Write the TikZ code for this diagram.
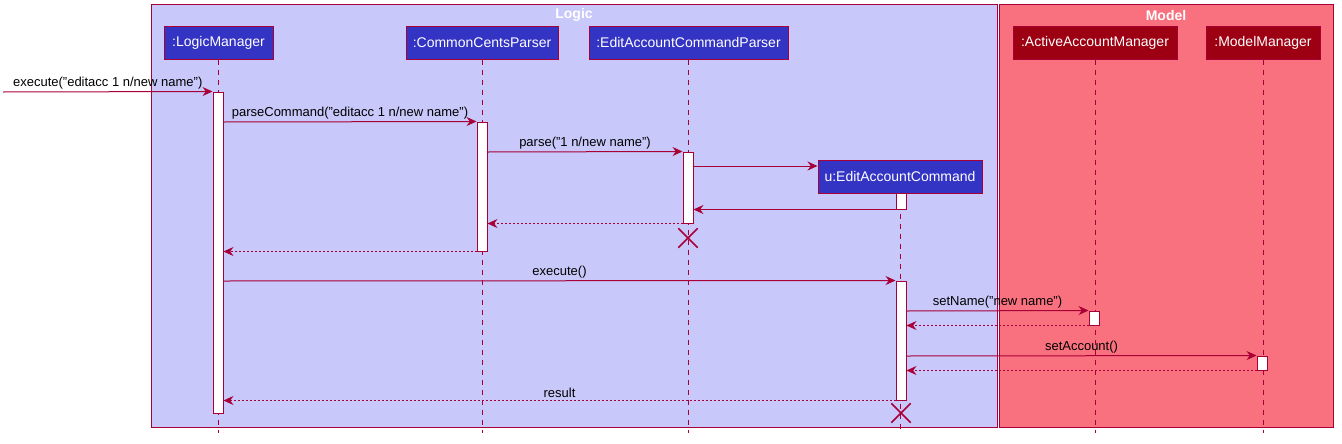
\documentclass[tikz,border=0pt]{standalone}
\usepackage{fontspec}
\setmainfont{Liberation Sans}
\usetikzlibrary{arrows.meta,fit,shapes.misc}
\definecolor{umlred}{HTML}{A80036}
\definecolor{logicbg}{HTML}{C8C8FA}
\definecolor{modelbg}{HTML}{F9717F}
\definecolor{logicpart}{HTML}{3333C4}
\definecolor{modelpart}{HTML}{9D0012}
\begin{document}
\begin{tikzpicture}[x=0.75pt,y=-0.75pt,
  font=\fontsize{9.75}{11.5}\selectfont,
  frame/.style={draw=umlred,line width=0.75pt},
  title/.style={text=white,font=\bfseries\fontsize{10.5}{12}\selectfont},
  part/.style={draw=umlred,line width=0.75pt,inner sep=0pt},
  ptext/.style={text=white,font=\fontsize{10.5}{12}\selectfont},
  life/.style={draw=umlred,line width=0.75pt,dash pattern=on 3.75pt off 3.75pt},
  act/.style={draw=umlred,fill=white,line width=0.75pt,inner sep=0pt},
  msg/.style={draw=umlred,line width=0.75pt,-{Stealth[length=7.5pt,width=6.75pt,inset=2.5pt]}},
  ret/.style={msg,dash pattern=on 1.5pt off 1.5pt},
  lbl/.style={above,inner sep=1.5pt,text=black},
  destroy/.style={cross out,draw=umlred,line width=1.1pt,minimum size=13.5pt,inner sep=0pt}]
\useasboundingbox (0,0) rectangle (1342,443);
% Draw the two boxes
\draw[frame,fill=logicbg] (151,4) rectangle (997,427);
\draw[frame,fill=modelbg] (999,4) rectangle (1333,427);
\node[title] (logic) at (574,15) {Logic};
\node[title] (model) at (1166,15) {Model};
% Participants
\node[part,fill=logicpart,fit={(164,26)(273,59)},label={[ptext]center::LogicManager}] (lm) {};
\node[part,fill=logicpart,fit={(406,26)(558,59)},label={[ptext]center::CommonCentsParser}] (ccp) {};
\node[part,fill=logicpart,fit={(589,26)(788,59)},label={[ptext]center::EditAccountCommandParser}] (ecp) {};
\node[part,fill=modelpart,fit={(1013,26)(1177,59)},label={[ptext]center::ActiveAccountManager}] (aam) {};
\node[part,fill=modelpart,fit={(1206,26)(1320,59)},label={[ptext]center::ModelManager}] (mm) {};
\node[part,fill=logicpart,fit={(818,160)(982,193)},label={[ptext]center:u:EditAccountCommand}] (eac) {};
% Lifelines
\foreach \p in {lm,ccp,ecp,aam,mm,eac}
  \draw[life] (\p.south) -- (\p.south |- 0,433);
% Activation bars
\node[act,fit={(213,92)(223,413)}] (lma) {};
\node[act,fit={(477,122)(487,251)}] (cca) {};
\node[act,fit={(683,152)(693,223)}] (eca) {};
\node[act,fit={(896,193)(906,209)}] (eaa) {};
\node[act,fit={(896,281)(906,400)}] (eab) {};
\node[act,fit={(1089,311)(1099,325)}] (aama) {};
\node[act,fit={(1257,356)(1267,370)}] (mma) {};
% Parsing the command
\coordinate (caller) at (3,92);
\draw[msg] (caller) -- (lma.north west) node[lbl,midway] {execute("editacc 1 n/new name")};
\draw[msg] (lma.east |- 0,122) -- (cca.north west) node[lbl,midway] {parseCommand("editacc 1 n/new name")};
\draw[msg] (cca.east |- 0,152) -- (eca.north west) node[lbl,midway] {parse("1 n/new name")};
\draw[msg] (eca.east |- 0,166) -- (eac.west |- 0,166);
\draw[msg] (eaa.south west) -- (eca.east |- eaa.south);
\draw[ret] (eca.south west) -- (cca.east |- eca.south);
\node[destroy] (ecpx) at (688,238) {};
\draw[ret] (cca.south west) -- (lma.east |- cca.south);
% Executing the command
\draw[msg] (lma.east |- 0,281) -- (eab.north west) node[lbl,midway] {execute()};
\draw[msg] (eab.east |- 0,311) -- (aama.north west) node[lbl,midway] {setName("new name")};
\draw[ret] (aama.south west) -- (eab.east |- aama.south);
\draw[msg] (eab.east |- 0,356) -- (mma.north west) node[lbl,midway] {setAccount()};
\draw[ret] (mma.south west) -- (eab.east |- mma.south);
\draw[ret] (eab.south west) -- (lma.east |- eab.south) node[lbl,midway] {result};
\node[destroy] (eacx) at (901,413) {};
\end{tikzpicture}
\end{document}
